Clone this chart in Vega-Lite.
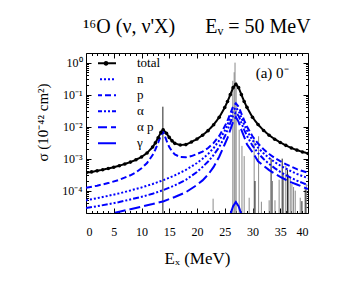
{
  "$schema": "https://vega.github.io/schema/vega-lite/v6.json",
  "width": 222,
  "height": 160,
  "autosize": {"type": "none"},
  "padding": {"left": 86, "top": 53, "right": 36, "bottom": 71},
  "background": "white",
  "title": {"text": "¹⁶O (ν, ν'X)\u2003\u2002Eᵥ = 50 MeV", "font": "Liberation Serif", "fontSize": 20, "fontWeight": "normal", "anchor": "middle", "baseline": "alphabetic", "offset": 0, "color": "black"},
  "config": {
    "font": "Liberation Serif",
    "view": {"stroke": "black", "strokeWidth": 1},
    "legend": {"rowPadding": 0, "clipHeight": 15.6},
    "axis": {"grid": false, "domain": false, "tickColor": "black", "tickWidth": 1, "labelColor": "black", "titleColor": "black", "labelFont": "Liberation Serif", "titleFont": "Liberation Serif", "titleFontWeight": "normal", "labelFontSize": 12, "titleFontSize": 17}
  },
  "datasets": {
    "curves": [
      {"E": 0, "s": 3.6e-4, "series": "total"}, {"E": 1, "s": 3.85e-4, "series": "total"}, {"E": 2, "s": 4.15e-4, "series": "total"}, {"E": 3, "s": 4.5e-4, "series": "total"}, {"E": 4, "s": 4.9e-4, "series": "total"}, {"E": 5, "s": 5.4e-4, "series": "total"}, {"E": 6, "s": 6.0e-4, "series": "total"}, {"E": 7, "s": 6.8e-4, "series": "total"}, {"E": 8, "s": 7.8e-4, "series": "total"}, {"E": 9, "s": 9.2e-4, "series": "total"}, {"E": 10, "s": 1.13e-3, "series": "total"}, {"E": 11, "s": 1.5e-3, "series": "total"}, {"E": 12, "s": 2.3e-3, "series": "total"}, {"E": 12.5, "s": 3.1e-3, "series": "total"}, {"E": 13, "s": 4.5e-3, "series": "total"}, {"E": 13.5, "s": 6.6e-3, "series": "total"}, {"E": 13.9, "s": 8.0e-3, "series": "total"}, {"E": 14.5, "s": 6.2e-3, "series": "total"}, {"E": 15, "s": 4.6e-3, "series": "total"}, {"E": 15.5, "s": 3.6e-3, "series": "total"}, {"E": 16, "s": 3.0e-3, "series": "total"}, {"E": 17, "s": 2.66e-3, "series": "total"}, {"E": 18, "s": 2.75e-3, "series": "total"}, {"E": 19, "s": 3.3e-3, "series": "total"}, {"E": 20, "s": 4.1e-3, "series": "total"}, {"E": 21, "s": 5.4e-3, "series": "total"}, {"E": 22, "s": 7.5e-3, "series": "total"}, {"E": 23, "s": 1.15e-2, "series": "total"}, {"E": 24, "s": 1.95e-2, "series": "total"}, {"E": 25, "s": 3.95e-2, "series": "total"}, {"E": 25.5, "s": 6.1e-2, "series": "total"}, {"E": 26, "s": 0.10, "series": "total"}, {"E": 26.5, "s": 0.165, "series": "total"}, {"E": 27, "s": 0.21, "series": "total"}, {"E": 27.5, "s": 0.165, "series": "total"}, {"E": 28, "s": 0.10, "series": "total"}, {"E": 28.5, "s": 6.1e-2, "series": "total"}, {"E": 29, "s": 4.0e-2, "series": "total"}, {"E": 30, "s": 1.96e-2, "series": "total"}, {"E": 31, "s": 1.16e-2, "series": "total"}, {"E": 32, "s": 7.6e-3, "series": "total"}, {"E": 33, "s": 5.4e-3, "series": "total"}, {"E": 34, "s": 4.05e-3, "series": "total"}, {"E": 35, "s": 3.2e-3, "series": "total"}, {"E": 36, "s": 2.6e-3, "series": "total"}, {"E": 37, "s": 2.15e-3, "series": "total"}, {"E": 38, "s": 1.85e-3, "series": "total"}, {"E": 39, "s": 1.62e-3, "series": "total"}, {"E": 40, "s": 1.45e-3, "series": "total"},

      {"E": 0, "s": 5.0e-5, "series": "n"}, {"E": 2, "s": 5.8e-5, "series": "n"}, {"E": 4, "s": 6.9e-5, "series": "n"}, {"E": 6, "s": 8.2e-5, "series": "n"}, {"E": 8, "s": 1.01e-4, "series": "n"}, {"E": 10, "s": 1.26e-4, "series": "n"}, {"E": 12, "s": 1.61e-4, "series": "n"}, {"E": 14, "s": 2.15e-4, "series": "n"}, {"E": 16, "s": 3.0e-4, "series": "n"}, {"E": 18, "s": 4.45e-4, "series": "n"}, {"E": 20, "s": 7.3e-4, "series": "n"}, {"E": 21, "s": 9.9e-4, "series": "n"}, {"E": 22, "s": 1.4e-3, "series": "n"}, {"E": 23, "s": 2.15e-3, "series": "n"}, {"E": 24, "s": 3.7e-3, "series": "n"}, {"E": 25, "s": 7.4e-3, "series": "n"}, {"E": 25.5, "s": 1.15e-2, "series": "n"}, {"E": 26, "s": 1.9e-2, "series": "n"}, {"E": 26.5, "s": 3.1e-2, "series": "n"}, {"E": 27, "s": 3.98e-2, "series": "n"}, {"E": 27.5, "s": 3.1e-2, "series": "n"}, {"E": 28, "s": 1.9e-2, "series": "n"}, {"E": 28.5, "s": 1.15e-2, "series": "n"}, {"E": 29, "s": 7.5e-3, "series": "n"}, {"E": 30, "s": 3.75e-3, "series": "n"}, {"E": 31, "s": 2.2e-3, "series": "n"}, {"E": 32, "s": 1.46e-3, "series": "n"}, {"E": 33, "s": 1.04e-3, "series": "n"}, {"E": 34, "s": 7.8e-4, "series": "n"}, {"E": 35, "s": 6.1e-4, "series": "n"}, {"E": 36, "s": 4.9e-4, "series": "n"}, {"E": 37, "s": 4.0e-4, "series": "n"}, {"E": 38, "s": 3.35e-4, "series": "n"}, {"E": 39, "s": 2.85e-4, "series": "n"}, {"E": 40, "s": 2.45e-4, "series": "n"},

      {"E": 0, "s": 1.22e-4, "series": "p"}, {"E": 2, "s": 1.43e-4, "series": "p"}, {"E": 4, "s": 1.72e-4, "series": "p"}, {"E": 6, "s": 2.18e-4, "series": "p"}, {"E": 8, "s": 3.02e-4, "series": "p"}, {"E": 9, "s": 3.75e-4, "series": "p"}, {"E": 10, "s": 5.0e-4, "series": "p"}, {"E": 11, "s": 7.3e-4, "series": "p"}, {"E": 12, "s": 1.3e-3, "series": "p"}, {"E": 12.5, "s": 1.93e-3, "series": "p"}, {"E": 13, "s": 3.14e-3, "series": "p"}, {"E": 13.5, "s": 5.3e-3, "series": "p"}, {"E": 13.9, "s": 7.0e-3, "series": "p"}, {"E": 14.5, "s": 3.7e-3, "series": "p"}, {"E": 15, "s": 2.3e-3, "series": "p"}, {"E": 15.5, "s": 1.7e-3, "series": "p"}, {"E": 16, "s": 1.35e-3, "series": "p"}, {"E": 17, "s": 1.12e-3, "series": "p"}, {"E": 18, "s": 1.1e-3, "series": "p"}, {"E": 19, "s": 1.2e-3, "series": "p"}, {"E": 20, "s": 1.4e-3, "series": "p"}, {"E": 21, "s": 1.65e-3, "series": "p"}, {"E": 22, "s": 2.15e-3, "series": "p"}, {"E": 23, "s": 3.1e-3, "series": "p"}, {"E": 24, "s": 5.1e-3, "series": "p"}, {"E": 25, "s": 1.02e-2, "series": "p"}, {"E": 25.5, "s": 1.55e-2, "series": "p"}, {"E": 26, "s": 2.57e-2, "series": "p"}, {"E": 26.5, "s": 4.22e-2, "series": "p"}, {"E": 27, "s": 5.37e-2, "series": "p"}, {"E": 27.5, "s": 4.22e-2, "series": "p"}, {"E": 28, "s": 2.57e-2, "series": "p"}, {"E": 28.5, "s": 1.56e-2, "series": "p"}, {"E": 29, "s": 1.01e-2, "series": "p"}, {"E": 30, "s": 5.0e-3, "series": "p"}, {"E": 31, "s": 2.96e-3, "series": "p"}, {"E": 32, "s": 1.96e-3, "series": "p"}, {"E": 33, "s": 1.39e-3, "series": "p"}, {"E": 34, "s": 1.05e-3, "series": "p"}, {"E": 35, "s": 8.3e-4, "series": "p"}, {"E": 36, "s": 6.7e-4, "series": "p"}, {"E": 37, "s": 5.6e-4, "series": "p"}, {"E": 38, "s": 4.7e-4, "series": "p"}, {"E": 39, "s": 4.1e-4, "series": "p"}, {"E": 40, "s": 3.6e-4, "series": "p"},

      {"E": 0, "s": 2.86e-5, "series": "α"}, {"E": 2, "s": 3.26e-5, "series": "α"}, {"E": 4, "s": 3.75e-5, "series": "α"}, {"E": 6, "s": 4.4e-5, "series": "α"}, {"E": 8, "s": 5.3e-5, "series": "α"}, {"E": 10, "s": 6.4e-5, "series": "α"}, {"E": 12, "s": 8.0e-5, "series": "α"}, {"E": 14, "s": 1.05e-4, "series": "α"}, {"E": 16, "s": 1.46e-4, "series": "α"}, {"E": 18, "s": 2.18e-4, "series": "α"}, {"E": 20, "s": 3.83e-4, "series": "α"}, {"E": 21, "s": 5.5e-4, "series": "α"}, {"E": 22, "s": 8.1e-4, "series": "α"}, {"E": 23, "s": 1.3e-3, "series": "α"}, {"E": 24, "s": 2.3e-3, "series": "α"}, {"E": 25, "s": 4.9e-3, "series": "α"}, {"E": 25.5, "s": 7.95e-3, "series": "α"}, {"E": 26, "s": 1.31e-2, "series": "α"}, {"E": 26.5, "s": 2.16e-2, "series": "α"}, {"E": 27, "s": 2.75e-2, "series": "α"}, {"E": 27.5, "s": 2.16e-2, "series": "α"}, {"E": 28, "s": 1.31e-2, "series": "α"}, {"E": 28.5, "s": 7.95e-3, "series": "α"}, {"E": 29, "s": 5.14e-3, "series": "α"}, {"E": 30, "s": 2.54e-3, "series": "α"}, {"E": 31, "s": 1.49e-3, "series": "α"}, {"E": 32, "s": 9.7e-4, "series": "α"}, {"E": 33, "s": 6.8e-4, "series": "α"}, {"E": 34, "s": 5.04e-4, "series": "α"}, {"E": 35, "s": 3.88e-4, "series": "α"}, {"E": 36, "s": 3.07e-4, "series": "α"}, {"E": 37, "s": 2.49e-4, "series": "α"}, {"E": 38, "s": 2.06e-4, "series": "α"}, {"E": 39, "s": 1.74e-4, "series": "α"}, {"E": 40, "s": 1.48e-4, "series": "α"},

      {"E": 0, "s": 1.12e-5, "series": "α p"}, {"E": 2, "s": 1.41e-5, "series": "α p"}, {"E": 4, "s": 1.82e-5, "series": "α p"}, {"E": 6, "s": 2.19e-5, "series": "α p"}, {"E": 8, "s": 2.63e-5, "series": "α p"}, {"E": 10, "s": 3.16e-5, "series": "α p"}, {"E": 12, "s": 3.8e-5, "series": "α p"}, {"E": 14, "s": 4.68e-5, "series": "α p"}, {"E": 16, "s": 6.31e-5, "series": "α p"}, {"E": 18, "s": 8.91e-5, "series": "α p"}, {"E": 20, "s": 1.51e-4, "series": "α p"}, {"E": 21, "s": 2.09e-4, "series": "α p"}, {"E": 22, "s": 3.16e-4, "series": "α p"}, {"E": 23, "s": 5.5e-4, "series": "α p"}, {"E": 24, "s": 1.15e-3, "series": "α p"}, {"E": 25, "s": 2.82e-3, "series": "α p"}, {"E": 25.5, "s": 4.47e-3, "series": "α p"}, {"E": 26, "s": 7.94e-3, "series": "α p"}, {"E": 26.5, "s": 1.41e-2, "series": "α p"}, {"E": 27, "s": 2.0e-2, "series": "α p"}, {"E": 27.5, "s": 1.41e-2, "series": "α p"}, {"E": 28, "s": 7.94e-3, "series": "α p"}, {"E": 28.5, "s": 4.79e-3, "series": "α p"}, {"E": 29, "s": 2.82e-3, "series": "α p"}, {"E": 30, "s": 1.58e-3, "series": "α p"}, {"E": 31, "s": 8.3e-4, "series": "α p"}, {"E": 32, "s": 6.0e-4, "series": "α p"}, {"E": 33, "s": 4.37e-4, "series": "α p"}, {"E": 34, "s": 3.39e-4, "series": "α p"}, {"E": 35, "s": 2.69e-4, "series": "α p"}, {"E": 36, "s": 2.19e-4, "series": "α p"}, {"E": 37, "s": 1.82e-4, "series": "α p"}, {"E": 38, "s": 1.55e-4, "series": "α p"}, {"E": 39, "s": 1.32e-4, "series": "α p"}, {"E": 40, "s": 1.12e-4, "series": "α p"},

      {"E": 25, "s": 6.5e-6, "series": "γ"}, {"E": 25.5, "s": 1.04e-5, "series": "γ"}, {"E": 26, "s": 1.81e-5, "series": "γ"}, {"E": 26.5, "s": 3.24e-5, "series": "γ"}, {"E": 27, "s": 4.4e-5, "series": "γ"}, {"E": 27.5, "s": 3.24e-5, "series": "γ"}, {"E": 28, "s": 1.81e-5, "series": "γ"}, {"E": 28.5, "s": 1.04e-5, "series": "γ"}, {"E": 29, "s": 6.5e-6, "series": "γ"}
    ],
    "levels": [
      {"E": 22.9, "s": 5.6e-5}, {"E": 26.45, "s": 0.27}, {"E": 26.7, "s": 0.5}, {"E": 26.85, "s": 1.0}, {"E": 27.05, "s": 0.25}, {"E": 27.6, "s": 8e-3}, {"E": 28.1, "s": 2.5e-3}, {"E": 28.5, "s": 1.2e-3}, {"E": 29.4, "s": 6e-5}, {"E": 30.3, "s": 4e-3}, {"E": 31.1, "s": 5e-3}, {"E": 31.6, "s": 4.5e-5}, {"E": 33.0, "s": 5e-5}, {"E": 33.6, "s": 2e-4}, {"E": 34.05, "s": 5e-5}, {"E": 34.8, "s": 2.2e-4}, {"E": 35.6, "s": 3.6e-4}, {"E": 36.0, "s": 6e-4}, {"E": 36.5, "s": 3.2e-4}, {"E": 36.8, "s": 2.5e-4}, {"E": 37.1, "s": 1.6e-4}, {"E": 37.4, "s": 1.3e-4}, {"E": 37.7, "s": 1e-4}, {"E": 38.6, "s": 6e-5}, {"E": 39.7, "s": 1.6e-4}
    ],
    "levels2": [
      {"E": 13.85, "s": 0.042}, {"E": 30.45, "s": 2e-4}, {"E": 33.35, "s": 1e-3}, {"E": 35.35, "s": 1e-3}, {"E": 36.3, "s": 4.5e-4}, {"E": 38.9, "s": 4.7e-5}, {"E": 39.5, "s": 1.1e-4}
    ],
    "notes": [{"E": 36.5, "s": 0.32, "label": "(a) 0⁻"}]
  },
  "resolve": {"axis": {"x": "independent", "y": "independent"}},
  "layer": [
    {
      "data": {"name": "levels"},
      "mark": {"type": "rule", "color": "#8a8a8a", "strokeWidth": 1, "clip": true},
      "encoding": {
        "x": {"field": "E", "type": "quantitative", "scale": {"domain": [0, 40], "nice": false, "zero": false},
          "axis": {"orient": "bottom", "values": [0, 5, 10, 15, 20, 25, 30, 35, 40], "tickSize": -5, "labelPadding": 18, "title": "Eₓ (MeV)", "titleBaseline": "alphabetic", "titleY": 50}},
        "y": {"field": "s", "type": "quantitative", "scale": {"type": "log", "domain": [0.00002, 2], "nice": false},
          "axis": {"orient": "left", "values": [0.0001, 0.001, 0.01, 0.1, 1], "tickSize": -5, "labelPadding": 9, "labelExpr": "'10' + ['⁰','⁻¹','⁻²','⁻³','⁻⁴'][round(-log(datum.value)/LN10)]", "title": "σ (10⁻⁴² cm²)", "titleFontSize": 15, "titleX": -36, "titleY": 69}},
        "y2": {"datum": 0.00002}
      }
    },
    {
      "data": {"name": "levels2"},
      "mark": {"type": "rule", "color": "#222222", "strokeWidth": 1, "clip": true},
      "encoding": {
        "x": {"field": "E", "type": "quantitative", "axis": {"orient": "top", "values": [0, 5, 10, 15, 20, 25, 30, 35, 40], "tickSize": -5, "labels": false, "title": null}},
        "y": {"field": "s", "type": "quantitative", "axis": {"orient": "right", "values": [0.0001, 0.001, 0.01, 0.1, 1], "tickSize": -5, "labels": false, "title": null}},
        "y2": {"datum": 0.00002}
      }
    },
    {
      "data": {"name": "curves"},
      "mark": {"type": "line", "strokeWidth": 2, "clip": true, "strokeCap": "butt"},
      "encoding": {
        "x": {"field": "E", "type": "quantitative", "axis": {"orient": "bottom", "values": [1,2,3,4,6,7,8,9,11,12,13,14,16,17,18,19,21,22,23,24,26,27,28,29,31,32,33,34,36,37,38,39], "tickSize": -2.5, "labels": false, "title": null}},
        "y": {"field": "s", "type": "quantitative", "axis": {"orient": "left", "values": [0.00003,0.00004,0.00005,0.00006,0.00007,0.00008,0.00009,0.0002,0.0003,0.0004,0.0005,0.0006,0.0007,0.0008,0.0009,0.002,0.003,0.004,0.005,0.006,0.007,0.008,0.009,0.02,0.03,0.04,0.05,0.06,0.07,0.08,0.09,0.2,0.3,0.4,0.5,0.6,0.7,0.8,0.9], "tickSize": -2.5, "labels": false, "title": null}},
        "color": {"field": "series", "type": "nominal", "scale": {"domain": ["total", "n", "p", "α", "α p", "γ"], "range": ["black", "#0000ff", "#0000ff", "#0000ff", "#0000ff", "#0000ff"]},
          "legend": {"title": null, "orient": "none", "legendX": 12, "legendY": 2.5, "symbolType": "stroke", "symbolSize": 196, "symbolStrokeWidth": 2, "labelFontSize": 13, "labelFont": "Liberation Serif", "labelColor": "black", "labelOffset": 23, "padding": 0,
            "encode": {"symbols": {"update": {"shape": {"signal": "datum.value === 'total' ? 'M-1.43,0L1.43,0M-0.2,0a0.2,0.2 0 1,0 0.4,0a0.2,0.2 0 1,0 -0.4,0' : 'M-1.43,0L1.43,0'"}}}}}},
        "strokeDash": {"field": "series", "type": "nominal", "scale": {"domain": ["total", "n", "p", "α", "α p", "γ"], "range": [[1, 0], [2, 2], [6, 3], [6, 2, 2, 2, 2, 2], [11, 4], [1, 0]]},
          "legend": {"title": null, "orient": "none", "legendX": 12, "legendY": 2.5, "symbolType": "stroke", "symbolSize": 196, "symbolStrokeWidth": 2, "labelFontSize": 13, "labelFont": "Liberation Serif", "labelColor": "black", "labelOffset": 23, "padding": 0,
            "encode": {"symbols": {"update": {"shape": {"signal": "datum.value === 'total' ? 'M-1.43,0L1.43,0M-0.2,0a0.2,0.2 0 1,0 0.4,0a0.2,0.2 0 1,0 -0.4,0' : 'M-1.43,0L1.43,0'"}}}}}}
      }
    },
    {
      "data": {"name": "curves"},
      "transform": [{"filter": "datum.series === 'total'"}],
      "mark": {"type": "point", "filled": true, "size": 13, "color": "black", "opacity": 1, "clip": true},
      "encoding": {
        "x": {"field": "E", "type": "quantitative", "axis": {"orient": "top", "values": [1,2,3,4,6,7,8,9,11,12,13,14,16,17,18,19,21,22,23,24,26,27,28,29,31,32,33,34,36,37,38,39], "tickSize": -2.5, "labels": false, "title": null}},
        "y": {"field": "s", "type": "quantitative", "axis": {"orient": "right", "values": [0.00003,0.00004,0.00005,0.00006,0.00007,0.00008,0.00009,0.0002,0.0003,0.0004,0.0005,0.0006,0.0007,0.0008,0.0009,0.002,0.003,0.004,0.005,0.006,0.007,0.008,0.009,0.02,0.03,0.04,0.05,0.06,0.07,0.08,0.09,0.2,0.3,0.4,0.5,0.6,0.7,0.8,0.9], "tickSize": -2.5, "labels": false, "title": null}}
      }
    },
    {
      "data": {"name": "notes"},
      "mark": {"type": "text", "align": "right", "baseline": "alphabetic", "fontSize": 15, "font": "Liberation Serif", "color": "black"},
      "encoding": {
        "x": {"field": "E", "type": "quantitative", "axis": null},
        "y": {"field": "s", "type": "quantitative", "axis": null},
        "text": {"field": "label"}
      }
    }
  ]
}
